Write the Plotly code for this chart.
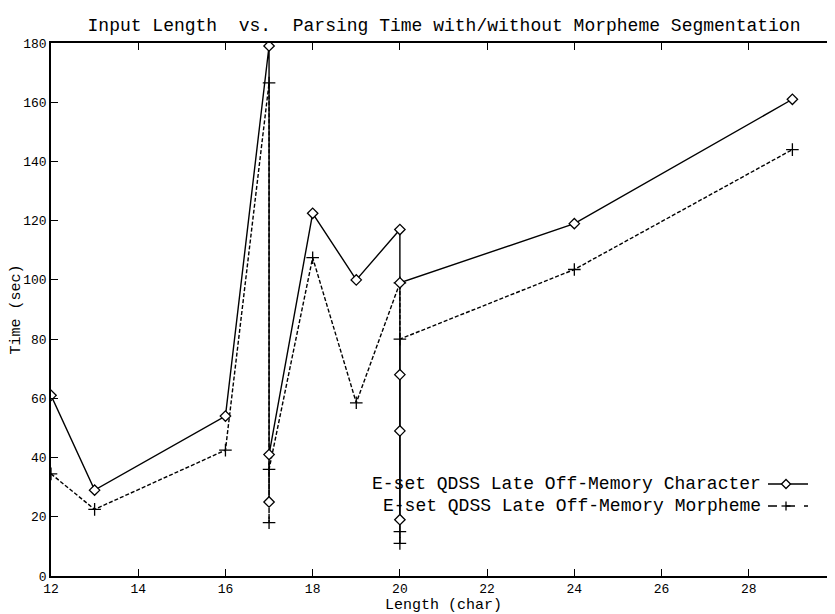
import plotly.graph_objects as go

# Data
x_char = [12, 13, 16, 17, 17, 17, 18, 19, 20, 20, 20, 20, 20, 24, 29]
y_char = [61, 29, 54, 179, 25, 41, 122.5, 100, 117, 68, 49, 19, 99, 119, 161]

x_morph = [12, 13, 16, 17, 17, 17, 18, 19, 20, 20, 20, 20, 24, 29]
y_morph = [34.5, 22.5, 42.5, 166.5, 18, 36, 107.5, 58.5, 99, 11, 15, 80, 103.5, 144]

x_ticks = [12, 14, 16, 18, 20, 22, 24, 26, 28, 30]
y_ticks = [0, 20, 40, 60, 80, 100, 120, 140, 160, 180]

name_char = "E-set QDSS Late Off-Memory Character"
name_morph = "E-set QDSS Late Off-Memory Morpheme"

FONT = "Liberation Mono"

fig = go.Figure()
fig.add_trace(go.Scatter(
    x=x_morph, y=y_morph, mode="lines+markers", name=name_morph,
    line=dict(color="black", width=1.4, dash="4px,2px"),
    marker=dict(symbol="cross-thin", size=9, line=dict(color="black", width=1.3)),
    showlegend=False,
))
fig.add_trace(go.Scatter(
    x=x_char, y=y_char, mode="lines+markers", name=name_char,
    line=dict(color="black", width=1.4),
    marker=dict(symbol="diamond", size=8, color="white", line=dict(color="black", width=1.3)),
    showlegend=False,
))

# Manual legend (text right-aligned, sample on the right, as in the reference)
def px2paper_x(px):
    return (px - 43) / (828 - 43)

def px2paper_y(py):
    return (568 - py) / (568 - 35)

legend_rows = [(name_char, 476, "solid", "diamond"), (name_morph, 498, "dash", "cross")]
for text, py, dash, mk in legend_rows:
    fig.add_annotation(
        text=text, xref="paper", yref="paper",
        x=px2paper_x(754), y=px2paper_y(py), xanchor="right", yanchor="middle",
        showarrow=False, borderpad=0, font=dict(family=FONT, size=18, color="black"),
    )
    fig.add_shape(
        type="line", xref="paper", yref="paper",
        x0=px2paper_x(760), x1=px2paper_x(800), y0=px2paper_y(py), y1=px2paper_y(py),
        line=dict(color="black", width=1.4, dash=dash),
    )
    cx, cy = px2paper_x(778), px2paper_y(py)
    dx, dy = 4.5 / 785, 4.5 / 533
    if mk == "diamond":
        fig.add_shape(
            type="path", xref="paper", yref="paper",
            path=f"M {cx-dx} {cy} L {cx} {cy+dy} L {cx+dx} {cy} L {cx} {cy-dy} Z",
            line=dict(color="black", width=1.3), fillcolor="white",
        )
    else:
        fig.add_shape(type="line", xref="paper", yref="paper",
                      x0=cx - dx, x1=cx + dx, y0=cy, y1=cy, line=dict(color="black", width=1.3))
        fig.add_shape(type="line", xref="paper", yref="paper",
                      x0=cx, x1=cx, y0=cy - dy, y1=cy + dy, line=dict(color="black", width=1.3))

axis_common = dict(
    showgrid=False, zeroline=False, showline=True, linecolor="black", linewidth=1.5,
    mirror="ticks", ticks="inside", ticklen=7, tickcolor="black", tickwidth=1.2,
    tickfont=dict(family=FONT, size=13, color="black"), automargin=False,
)

fig.update_xaxes(range=[12, 30], tickvals=x_ticks, ticktext=[str(v) for v in x_ticks],
                 title=dict(text="Length (char)", font=dict(family=FONT, size=15, color="black"), standoff=0),
                 **axis_common)
fig.update_yaxes(range=[0, 180], tickvals=y_ticks, ticktext=[str(v) for v in y_ticks],
                 title=dict(text="Time (sec)", font=dict(family=FONT, size=15, color="black"), standoff=2),
                 **axis_common)

fig.update_layout(
    width=835, height=614,
    margin=dict(l=43, r=7, t=35, b=46),
    paper_bgcolor="white", plot_bgcolor="white",
    title=dict(text="Input Length  vs.  Parsing Time with/without Morpheme Segmentation",
               x=(80 + 792) / 2 / 835, xanchor="center", y=1 - 17 / 614, yanchor="middle",
               font=dict(family=FONT, size=18, color="black")),
)

fig.write_html("out.html")
